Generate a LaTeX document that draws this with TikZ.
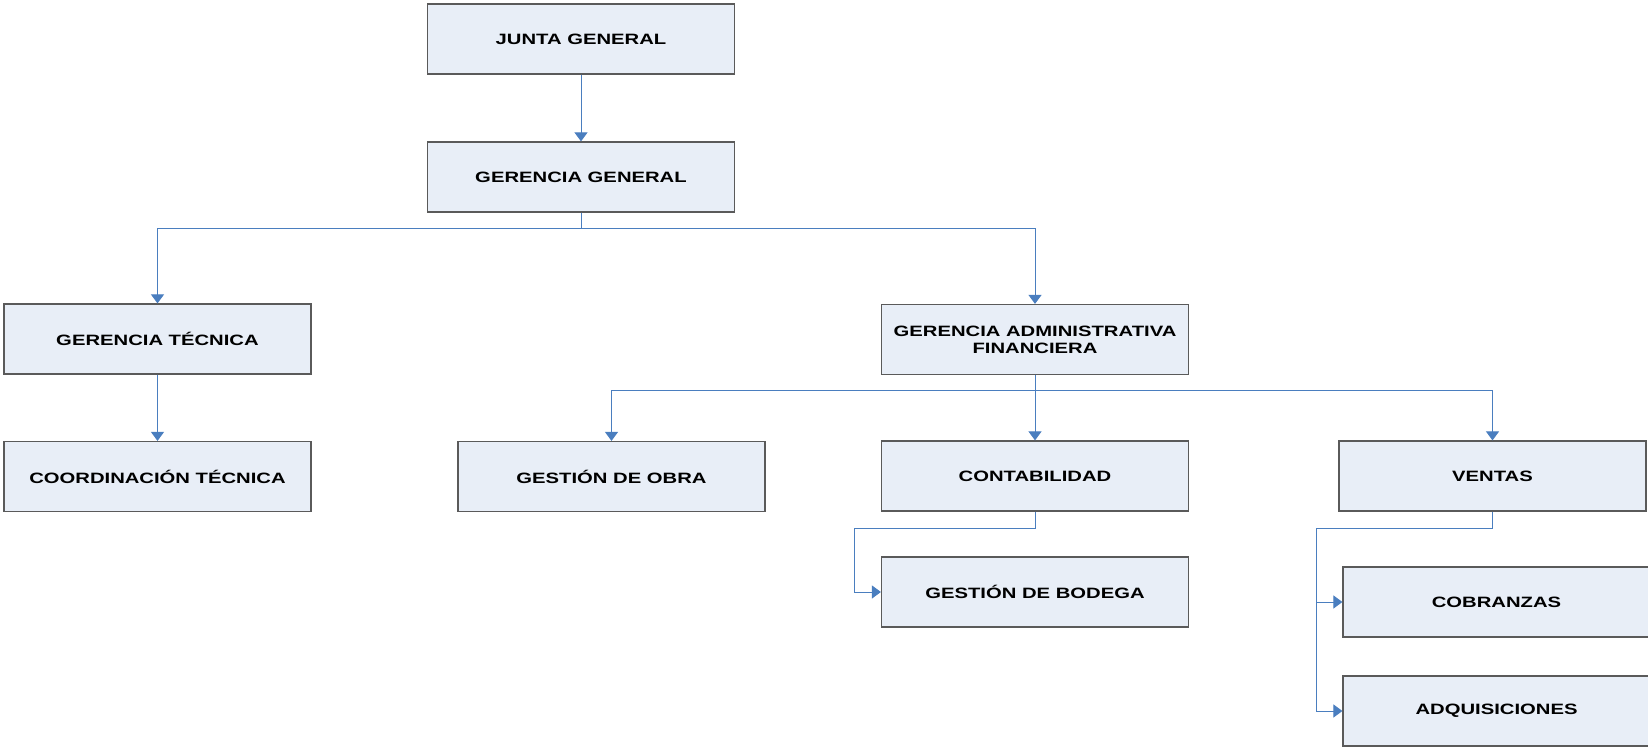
\documentclass[tikz,border=0pt]{standalone}
\usepackage{fontspec}
\setmainfont{Liberation Sans}
\newfontfamily\boxfont[FakeStretch=1.35]{Liberation Sans}
\usetikzlibrary{arrows.meta}
\definecolor{boxfill}{HTML}{E8EEF7}
\definecolor{boxline}{HTML}{5A5A5A}
\definecolor{linkblue}{HTML}{4A7EBF}
\begin{document}
\begin{tikzpicture}[x=0.5pt,y=-0.5pt,
  box/.style={draw=boxline,fill=boxfill,line width=0.6pt,minimum width=153.5pt,minimum height=35pt,
    inner sep=0pt,align=center,font=\boxfont\bfseries\fontsize{7.5pt}{8.6pt}\selectfont,text=black},
  link/.style={draw=linkblue,line width=0.5pt},
  arr/.style={link,-{Triangle[width=6.5pt,length=4.5pt]}}]
\useasboundingbox (0,0) rectangle (1648,748);
\node[box] (jg) at (581,39) {JUNTA GENERAL};
\node[box] (gg) at (581,177) {GERENCIA GENERAL};
\node[box] (gt) at (157.5,339) {GERENCIA TÉCNICA};
\node[box] (gaf) at (1035,339.5) {GERENCIA ADMINISTRATIVA\\FINANCIERA};
\node[box] (ct) at (157.5,476.5) {COORDINACIÓN TÉCNICA};
\node[box] (go) at (611.5,476.5) {GESTIÓN DE OBRA};
\node[box] (cont) at (1035,476) {CONTABILIDAD};
\node[box] (gb) at (1035,592) {GESTIÓN DE BODEGA};
\node[box] (ven) at (1492.5,476) {VENTAS};
\node[box] (cob) at (1496.5,602) {COBRANZAS};
\node[box] (adq) at (1496.5,711) {ADQUISICIONES};
\coordinate (j1) at (581,229);
\coordinate (j2) at (1035,391);
\coordinate (j3) at (854,528);
\coordinate (j4) at (1316,528);
\draw[arr] (jg.south) -- (gg.north);
\draw[link] (gg.south) -- (j1);
\draw[arr] (j1) -| (gt.north);
\draw[arr] (j1) -| (gaf.north);
\draw[arr] (gt.south) -- (ct.north);
\draw[link] (gaf.south) -- (j2);
\draw[arr] (j2) -| (go.north);
\draw[arr] (j2) -- (cont.north);
\draw[arr] (j2) -| (ven.north);
\draw[arr] (cont.south) |- (j3) |- (gb.west);
\draw[link] (ven.south) |- (j4);
\draw[arr] (j4) |- (cob.west);
\draw[arr] (j4) |- (adq.west);
\end{tikzpicture}
\end{document}
